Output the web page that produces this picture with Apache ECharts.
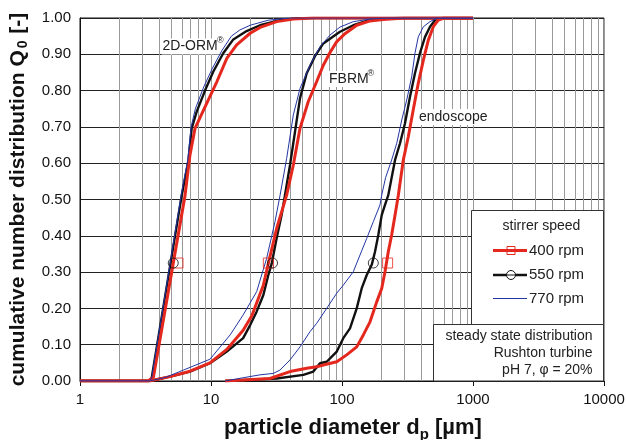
<!DOCTYPE html>
<html>
<head>
<meta charset="utf-8">
<script src="https://cdn.jsdelivr.net/npm/echarts@6/dist/echarts.min.js"></script>
<style>
  html, body { margin: 0; padding: 0; background: #fff; }
  #chart { width: 626px; height: 440px; }
</style>
</head>
<body>
<div id="chart"></div>
<script>
const FONT = "'Liberation Sans', Arial, sans-serif"

// Kurven [Partikeldurchmesser µm, Q0]
const orm400 = [[1,0],[3.3,0],[3.63,0.01],[6.33,0.51],[6.91,0.623],[7.55,0.696],[9.27,0.765],[11.1,0.825],[13.2,0.889],[15.7,0.926],[19.9,0.958],[23.7,0.974],[31.7,0.99],[42.5,0.997],[60,1],[1000,1]]
const orm550 = [[1,0],[3.42,0],[3.53,0.01],[5.97,0.51],[6.71,0.604],[7.12,0.696],[7.78,0.742],[9.0,0.8],[10.4,0.852],[12.4,0.903],[14.8,0.941],[18.7,0.964],[23.7,0.98],[33.6,0.994],[45.1,0.999],[60,1],[1000,1]]
const orm770 = [[1,0],[3.42,0],[3.53,0.01],[5.9,0.51],[6.65,0.61],[7.05,0.7],[7.6,0.75],[8.8,0.81],[10.2,0.86],[12.1,0.91],[14.3,0.95],[16.6,0.967],[19.9,0.98],[27.4,0.994],[40,1],[1000,1]]

const fbrm400 = [[1,0],[3.4,0],[4.86,0.012],[6.91,0.027],[9.82,0.05],[13.2,0.087],[17.6,0.14],[20.5,0.18],[25.1,0.264],[27.4,0.324],[31.7,0.42],[37.8,0.512],[42.5,0.595],[47.8,0.696],[55.3,0.77],[64.1,0.825],[72,0.87],[81,0.905],[91.2,0.935],[104,0.955],[129.5,0.98],[163.6,0.992],[206.7,0.996],[300,1],[1000,1]]
const fbrm550 = [[1,0],[3.4,0],[4.86,0.012],[6.91,0.026],[9.82,0.049],[13.2,0.081],[17.6,0.118],[19.9,0.154],[22.3,0.191],[25.1,0.237],[27.4,0.292],[29.1,0.324],[31.7,0.393],[34.6,0.457],[36.7,0.512],[40.1,0.595],[43.8,0.687],[47.8,0.779],[53.8,0.848],[62.2,0.895],[72,0.93],[81,0.943],[96.5,0.962],[122,0.98],[154.5,0.992],[195,0.997],[260,1],[1000,1]]
const fbrm770 = [[1,0],[3.4,0],[4.5,0.01],[6.15,0.03],[9.82,0.06],[14.0,0.127],[17.6,0.182],[22.3,0.246],[26.6,0.338],[30.8,0.439],[33.6,0.51],[37.8,0.613],[42.5,0.733],[47.8,0.806],[57,0.87],[68,0.921],[81,0.953],[96.5,0.975],[122,0.99],[163.6,0.997],[220,1],[1000,1]]

const endo400 = [[12.8,0],[28.2,0.007],[40.1,0.026],[53.8,0.035],[64.1,0.039],[72,0.044],[91.2,0.053],[108.6,0.072],[129.5,0.094],[145.5,0.127],[163.6,0.163],[184.1,0.218],[201,0.255],[212.9,0.301],[225.6,0.356],[239.4,0.402],[254.1,0.457],[269.2,0.512],[293.8,0.609],[320.7,0.673],[349.9,0.747],[382.1,0.82],[417.8,0.884],[455.9,0.939],[497.7,0.976],[543.3,0.994],[559.8,0.999],[600,1],[1000,1]]
const endo550 = [[12.8,0],[31.7,0.007],[50.7,0.017],[60.4,0.026],[68,0.049],[76.4,0.053],[91.2,0.081],[102.3,0.118],[115.1,0.145],[129.5,0.2],[141.3,0.255],[154.5,0.292],[168.6,0.32],[178.6,0.356],[189.3,0.402],[201,0.457],[212.9,0.485],[225.6,0.512],[254.1,0.609],[277.3,0.655],[302.7,0.71],[330.4,0.783],[360.6,0.848],[393.6,0.903],[430.4,0.948],[469.8,0.976],[512.9,0.994],[543.3,0.999],[600,1],[1000,1]]
const endo770 = [[12.8,0],[17.6,0.009],[23.7,0.017],[29.9,0.021],[33.6,0.03],[40.1,0.058],[47.8,0.094],[57,0.136],[64.1,0.159],[76.4,0.2],[91.2,0.242],[102.3,0.264],[122,0.301],[137.2,0.347],[154.5,0.393],[173.4,0.439],[195,0.485],[201,0.512],[215,0.56],[239.4,0.609],[261.8,0.655],[285.8,0.719],[311.9,0.774],[340.4,0.838],[360.6,0.903],[382.1,0.948],[417.8,0.976],[469.8,0.99],[528.4,0.999],[600,1],[1000,1]]

// Markierungen (Q0 = 0.325)
const markQ = 0.325
const mark400 = [5.6, 27.4, 223]
const mark550 = [5.15, 29.5, 173.4]

// Achsen
const decades = [1, 10, 100, 1000]
const minorSteps = [2, 3, 4, 5, 6, 7, 8, 9]

const RED = "#e5281e"
const BLACK = "#111111"
const BLUE = "#2336a3"

const minorLines = []
decades.forEach((d) => minorSteps.forEach((k) => minorLines.push({ xAxis: d * k })))

const lineSeries = (name, data, color, width, z) => ({
  name,
  type: "line",
  data,
  showSymbol: false,
  symbol: "none",
  z,
  lineStyle: { color, width },
  animation: false,
})

const label = (x, y, text, size, z, extra) => ({
  type: "text",
  x,
  y,
  z,
  style: Object.assign({ text, font: `${size}px ${FONT}`, fill: "#222", verticalAlign: "middle" }, extra || {}),
})

const chart = echarts.init(document.getElementById("chart"))

const option = {
  animation: false,
  textStyle: { fontFamily: FONT },
  grid: {
    left: 80,
    right: 22,
    top: 18,
    bottom: 59,
    outerBoundsMode: "none",
    containLabel: false,
    show: true,
    borderColor: "#111",
    borderWidth: 1,
  },
  xAxis: {
    type: "log",
    logBase: 10,
    min: 1,
    max: 10000,
    name: "{b|particle diameter d}{s|p}{b| [µm]}",
    nameLocation: "middle",
    nameGap: 33,
    nameTextStyle: {
      padding: [0, 0, 0, 22],
      rich: {
        b: { fontFamily: FONT, fontSize: 22, fontWeight: "bold", color: "#111" },
        s: { fontFamily: FONT, fontSize: 15, fontWeight: "bold", color: "#111", padding: [13, 0, 0, 0] },
      },
    },
    axisLine: { lineStyle: { color: "#111" } },
    axisTick: { show: true, length: 5, lineStyle: { color: "#111" } },
    axisLabel: { fontFamily: FONT, fontSize: 15, color: "#111", margin: 11, formatter: (v) => String(Math.round(v)) },
    splitLine: { show: true, lineStyle: { color: "#9a9a9a", width: 1 } },
  },
  yAxis: {
    type: "value",
    min: 0,
    max: 1,
    interval: 0.1,
    name: "{b|cumulative number distribution Q}{s|0}{b| [-]}",
    nameLocation: "middle",
    nameGap: 50,
    nameTextStyle: {
      rich: {
        b: { fontFamily: FONT, fontSize: 21, fontWeight: "bold", color: "#111" },
        s: { fontFamily: FONT, fontSize: 14, fontWeight: "bold", color: "#111", padding: [10, 1, 0, 2] },
      },
    },
    axisLine: { lineStyle: { color: "#111" } },
    axisTick: { show: false },
    axisLabel: { fontFamily: FONT, fontSize: 15, color: "#111", margin: 9, formatter: (v) => v.toFixed(2) },
    splitLine: { show: true, lineStyle: { color: "#222", width: 1 } },
  },
  series: [
    // Nebengitter
    {
      type: "line",
      data: [],
      silent: true,
      z: 1,
      markLine: {
        silent: true,
        z: 1,
        symbol: ["none", "none"],
        label: { show: false },
        lineStyle: { color: "#9a9a9a", width: 1, type: "solid" },
        data: minorLines,
        animation: false,
      },
    },
    lineSeries("550 rpm", orm550, BLACK, 2.4, 3),
    lineSeries("550 rpm", fbrm550, BLACK, 2.4, 3),
    lineSeries("550 rpm", endo550, BLACK, 2.4, 3),
    lineSeries("400 rpm", orm400, RED, 3, 4),
    lineSeries("400 rpm", fbrm400, RED, 3, 4),
    lineSeries("400 rpm", endo400, RED, 3, 4),
    lineSeries("770 rpm", orm770, BLUE, 1, 5),
    lineSeries("770 rpm", fbrm770, BLUE, 1, 5),
    lineSeries("770 rpm", endo770, BLUE, 1, 5),
    {
      name: "400 rpm",
      type: "scatter",
      z: 6,
      symbol: "rect",
      symbolSize: 10,
      data: mark400.map((d) => [d, markQ]),
      itemStyle: { color: "rgba(0,0,0,0)", borderColor: RED, borderWidth: 1 },
    },
    {
      name: "550 rpm",
      type: "scatter",
      z: 6,
      symbol: "circle",
      symbolSize: 10,
      data: mark550.map((d) => [d, markQ]),
      itemStyle: { color: "rgba(0,0,0,0)", borderColor: BLACK, borderWidth: 1 },
    },
  ],
  graphic: [
    // Kurvenbeschriftung (über Gitter, unter Kurven)
    label(161.5, 46.5, "2D-ORM", 14, 2, { backgroundColor: "#fff", padding: [1, 9, 1, 1] }),
    label(217, 41, "®", 9, 2),
    label(328, 79, "FBRM", 14, 2, { backgroundColor: "#fff", padding: [1, 9, 1, 1] }),
    label(367.5, 74, "®", 9, 2),
    label(418, 117, "endoscope", 14, 2, { backgroundColor: "#fff", padding: [1, 1, 1, 1] }),
    // Legende
    { type: "rect", z: 100, shape: { x: 471.5, y: 210.5, width: 132, height: 114 }, style: { fill: "#fff", stroke: "#333", lineWidth: 1 } },
    label(541.5, 226, "stirrer speed", 14, 110, { align: "center" }),
    { type: "line", z: 101, shape: { x1: 493, y1: 250.5, x2: 527, y2: 250.5 }, style: { stroke: RED, lineWidth: 3 } },
    { type: "rect", z: 102, shape: { x: 507, y: 246.5, width: 8, height: 8 }, style: { fill: "rgba(0,0,0,0)", stroke: RED, lineWidth: 1 } },
    label(529, 251, "400 rpm", 15, 110),
    { type: "line", z: 101, shape: { x1: 493, y1: 275, x2: 527, y2: 275 }, style: { stroke: BLACK, lineWidth: 2.4 } },
    { type: "circle", z: 102, shape: { cx: 511, cy: 275, r: 4.5 }, style: { fill: "#fff", stroke: BLACK, lineWidth: 1 } },
    { type: "line", z: 103, shape: { x1: 506.5, y1: 275, x2: 515.5, y2: 275 }, style: { stroke: BLACK, lineWidth: 1 } },
    label(529, 275, "550 rpm", 15, 110),
    { type: "line", z: 101, shape: { x1: 493, y1: 298.5, x2: 527, y2: 298.5 }, style: { stroke: BLUE, lineWidth: 1 } },
    label(529, 298.5, "770 rpm", 15, 110),
    // Versuchsbedingungen
    { type: "rect", z: 100, shape: { x: 433.5, y: 324.5, width: 170, height: 56.5 }, style: { fill: "#fff", stroke: "#333", lineWidth: 1 } },
    label(592.5, 336, "steady state distribution", 14, 110, { align: "right" }),
    label(592.5, 353, "Rushton turbine", 14, 110, { align: "right" }),
    label(592.5, 370, "pH 7, φ = 20%", 14, 110, { align: "right" }),
  ],
}

chart.setOption(option)
</script>
</body>
</html>
